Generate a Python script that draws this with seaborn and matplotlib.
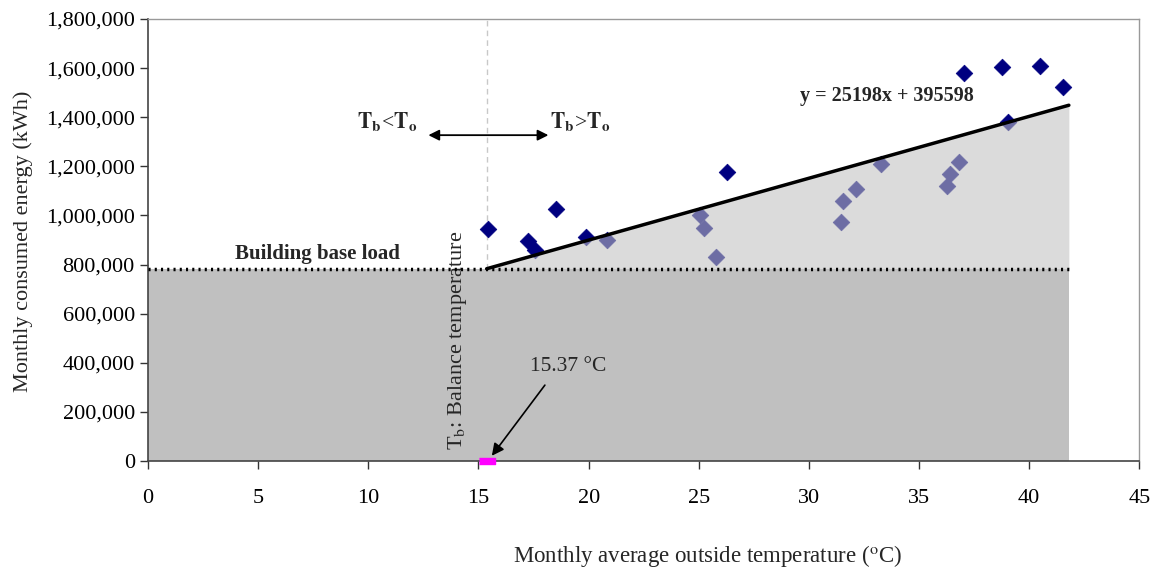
import numpy as np
import pandas as pd
import matplotlib
matplotlib.use("Agg")
import matplotlib.pyplot as plt
import seaborn as sns

# ---- data ----
temps = [15.41, 17.27, 17.57, 18.51, 19.88, 20.83, 25.07, 25.24, 25.76, 26.26,
         31.46, 31.56, 32.12, 33.26, 36.28, 36.39, 36.80, 37.02, 38.76, 39.04,
         40.50, 41.52]
energy = [946000, 896000, 860000, 1026000, 912000, 901000, 1000000, 950000,
          829000, 1177000, 975000, 1057000, 1108000, 1209000, 1118000, 1169000,
          1219000, 1579000, 1603000, 1379000, 1608000, 1522000]
slope = 25198
intercept = 395598
balance_temp = 15.37
x_end = 41.8
x_ticks = [0, 5, 10, 15, 20, 25, 30, 35, 40, 45]
y_ticks = [0, 200000, 400000, 600000, 800000, 1000000, 1200000, 1400000, 1600000, 1800000]
y_tick_labels = ["0", "200,000", "400,000", "600,000", "800,000", "1,000,000",
                 "1,200,000", "1,400,000", "1,600,000", "1,800,000"]

base_load = slope * balance_temp + intercept

sns.set_theme(style="white")
plt.rcParams["font.family"] = ["Liberation Serif", "DejaVu Serif"]
plt.rcParams["mathtext.fontset"] = "stix"

fig = plt.figure(figsize=(11.54, 5.73), dpi=100)
ax = fig.add_axes([0.1283, 0.1955, 0.8590, 0.7713])

# base load region
ax.fill_between([0, x_end], [0, 0], [base_load, base_load], color="#c0c0c0", lw=0, zorder=1)

# vertical dashed line at balance temperature
ax.plot([balance_temp, balance_temp], [base_load, 1800000], color="#c8c8c8",
        ls=(0, (4, 3)), lw=1, zorder=1.5)

# points
df = pd.DataFrame({"T": temps, "E": energy})
sns.scatterplot(data=df, x="T", y="E", marker="D", s=72, color="#000080",
                edgecolor="#000080", linewidth=0.5, ax=ax, zorder=2)

# cooling load wedge
tx = np.array([balance_temp, x_end])
ty = slope * tx + intercept
ax.fill_between(tx, [base_load, base_load], ty, color="#c1c1c1", alpha=0.57,
                lw=0, zorder=3)

# trend line and base load line
trend = pd.DataFrame({"T": tx, "E": ty})
sns.lineplot(data=trend, x="T", y="E", color="black", lw=2.5, ax=ax, zorder=4)
ax.plot([0, x_end], [base_load, base_load], color="black", lw=2.5,
        ls=(0, (0.6, 1.2)), zorder=4)

# balance marker
ax.plot([balance_temp], [0], marker=[(-1, -0.45), (1, -0.45), (1, 0.45), (-1, 0.45)],
        ms=11, color="#ff00ff", mec="#ff00ff", clip_on=False, zorder=6)

# annotations
ax.annotate("", xy=(15.53, 12000), xytext=(18.09, 318000),
            arrowprops=dict(arrowstyle="-|>", color="black", lw=1.2,
                            mutation_scale=18), zorder=6)
ax.text(19.05, 383000, "15.37 °C", fontsize=15.5, ha="center", va="center")
ax.text(14.05, 45000, r"T$_\mathrm{b}$: Balance temperature", fontsize=16,
        rotation=90, ha="center", va="bottom")
ax.text(7.69, 843000, "Building base load", fontsize=15, fontweight="bold",
        ha="center", va="center")
ax.text(10.84, 1380000, r"$\mathbf{T_b}$<$\mathbf{T_o}$", fontsize=15.5,
        ha="center", va="center")
ax.text(19.63, 1380000, r"$\mathbf{T_b}$>$\mathbf{T_o}$", fontsize=15.5,
        ha="center", va="center")
ax.annotate("", xy=(12.6, 1327000), xytext=(18.3, 1327000),
            arrowprops=dict(arrowstyle="<|-|>", color="black", lw=1.3,
                            mutation_scale=16))
ax.text(33.55, 1486000, "y = 25198x + 395598", fontsize=14.5, fontweight="bold",
        ha="center", va="center")

# axes
ax.set_xlim(0, 45)
ax.set_ylim(0, 1800000)
ax.set_xticks(x_ticks)
ax.set_xticklabels([str(t) for t in x_ticks])
ax.set_yticks(y_ticks)
ax.set_yticklabels(y_tick_labels)
ax.tick_params(axis="both", direction="out", length=6, width=1, colors="#333333",
               labelcolor="black", labelsize=16, bottom=True, left=True)
ax.tick_params(axis="x", pad=14)
for side in ["left", "bottom"]:
    ax.spines[side].set_color("#444444")
    ax.spines[side].set_linewidth(1.2)
for side in ["top", "right"]:
    ax.spines[side].set_color("#999999")
    ax.spines[side].set_linewidth(1)
ax.set_xlabel(r"Monthly average outside temperature ($^{\mathrm{o}}$C)", fontsize=16.5)
ax.xaxis.label.set_va("center")
ax.xaxis.set_label_coords((708 - 148) / (1140 - 148), (461 - 556) / 442)
ax.set_ylabel("Monthly consumed energy (kWh)", fontsize=16)
ax.yaxis.label.set_va("center")
ax.yaxis.set_label_coords((23 - 148) / (1140 - 148), (461 - 241) / 442)
if ax.get_legend() is not None:
    ax.get_legend().remove()

fig.savefig("out.png", dpi=100)
